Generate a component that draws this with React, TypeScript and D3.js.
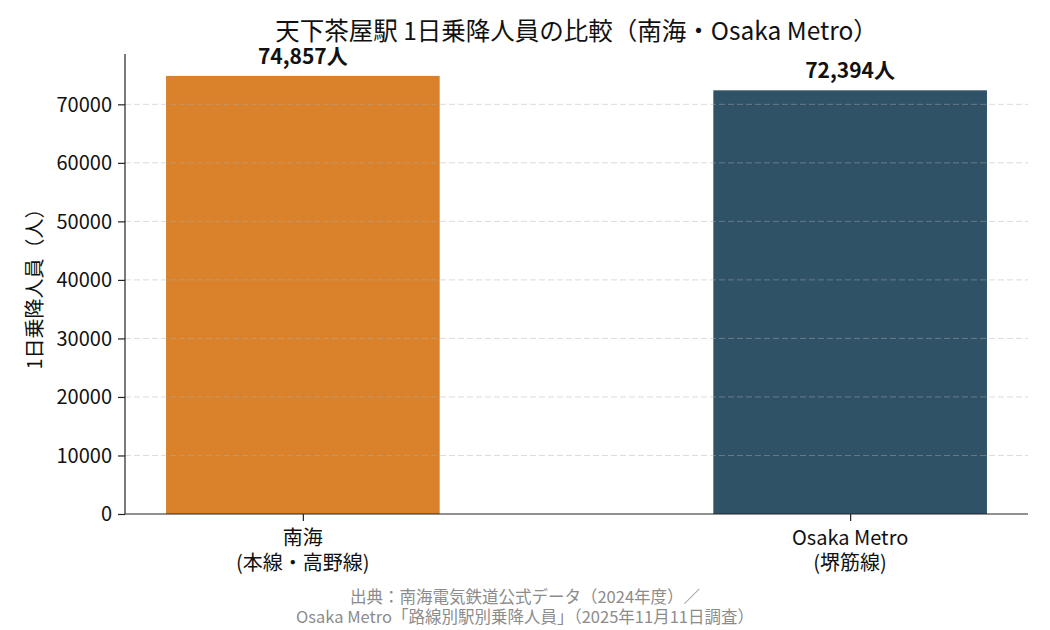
import React, { useEffect, useRef } from 'react'
import * as d3 from 'd3'

const categories = ['南海', 'Osaka Metro']
const subLabels = ['(本線・高野線)', '(堺筋線)']
const riders = [74857, 72394]
const barColors = ['#D9822B', '#2F5266']
const yTicks = [0, 10000, 20000, 30000, 40000, 50000, 60000, 70000]
const titleText = '天下茶屋駅 1日乗降人員の比較（南海・Osaka Metro）'
const yLabel = '1日乗降人員（人）'
const sourceLines = [
  '出典：南海電気鉄道公式データ（2024年度）／',
  'Osaka Metro「路線別駅別乗降人員」（2025年11月11日調査）',
]

const W = 1050
const H = 630
const margin = { left: 125, right: 22, top: 54, bottom: 116 }
const font = '"Noto Sans CJK JP", "Noto Sans", sans-serif'

const App = (): JSX.Element => {
  const ref = useRef<SVGSVGElement>(null)

  useEffect(() => {
    const svg = d3.select(ref.current)
    svg.selectAll('*').remove()
    const innerW = W - margin.left - margin.right
    const innerH = H - margin.top - margin.bottom

    // categorical axis like matplotlib: bars width 0.5, 5% margins
    const x = d3.scaleLinear().domain([-0.325, 1.325]).range([0, innerW])
    const y = d3
      .scaleLinear()
      .domain([0, d3.max(riders)! * 1.05])
      .range([innerH, 0])

    const g = svg
      .append('g')
      .attr('transform', `translate(${margin.left},${margin.top})`)

    g.selectAll('rect.bar')
      .data(riders)
      .join('rect')
      .attr('class', 'bar')
      .attr('x', (_, i) => x(i - 0.25))
      .attr('width', x(0.5) - x(0))
      .attr('y', d => y(d))
      .attr('height', d => innerH - y(d))
      .attr('fill', (_, i) => barColors[i])

    // grid on top, as in the reference
    g.append('g')
      .selectAll('line')
      .data(yTicks.slice(1))
      .join('line')
      .attr('x1', 0)
      .attr('x2', innerW)
      .attr('y1', d => y(d))
      .attr('y2', d => y(d))
      .attr('stroke', '#b0b0b0')
      .attr('stroke-opacity', 0.45)
      .attr('stroke-dasharray', '6,3')

    const yAxis = d3
      .axisLeft(y)
      .tickValues(yTicks)
      .tickSize(7)
      .tickPadding(6)
      .tickFormat(d => String(d))
    g.append('g').call(ax => {
      ax.call(yAxis)
      ax.select('.domain')
        .attr('d', `M0,${innerH}V0`)
        .attr('stroke', '#222')
        .attr('stroke-width', 1.2)
      ax.selectAll('.tick line').attr('stroke', '#222').attr('stroke-width', 1.2)
      ax.selectAll('.tick text')
        .attr('font-family', font)
        .attr('font-size', 20)
        .attr('dy', '0.34em')
        .attr('fill', '#111')
    })

    const xAxis = d3
      .axisBottom(x)
      .tickValues([0, 1])
      .tickSize(7)
      .tickFormat(() => '')
    g.append('g')
      .attr('transform', `translate(0,${innerH})`)
      .call(ax => {
        ax.call(xAxis)
        ax.select('.domain')
          .attr('d', `M0,0H${innerW}`)
          .attr('stroke', '#222')
          .attr('stroke-width', 1.2)
        ax.selectAll('.tick line').attr('stroke', '#222').attr('stroke-width', 1.2)
      })

    categories.forEach((c, i) => {
      const t = g
        .append('text')
        .attr('x', x(i))
        .attr('y', innerH + 31)
        .attr('text-anchor', 'middle')
        .attr('font-family', font)
        .attr('font-size', 20)
        .attr('fill', '#111')
      t.append('tspan').attr('x', x(i)).text(c)
      t.append('tspan').attr('x', x(i)).attr('dy', 25).text(subLabels[i])
    })

    g.selectAll('text.val')
      .data(riders)
      .join('text')
      .attr('class', 'val')
      .attr('x', (_, i) => x(i))
      .attr('y', d => y(d) - 12)
      .attr('text-anchor', 'middle')
      .attr('font-family', font)
      .attr('font-weight', 'bold')
      .attr('font-size', 21)
      .attr('fill', '#111')
      .text(d => d3.format(',')(d) + '人')

    svg
      .append('text')
      .attr('x', margin.left + innerW / 2)
      .attr('y', 40)
      .attr('text-anchor', 'middle')
      .attr('font-family', font)
      .attr('font-size', 24.5)
      .attr('fill', '#111')
      .text(titleText)

    svg
      .append('text')
      .attr('transform', `translate(42,${margin.top + innerH / 2}) rotate(-90)`)
      .attr('text-anchor', 'middle')
      .attr('font-family', font)
      .attr('font-size', 20)
      .attr('fill', '#111')
      .text(yLabel)

    svg
      .append('g')
      .selectAll('text')
      .data(sourceLines)
      .join('text')
      .attr('x', W / 2)
      .attr('y', (_, i) => 603 + i * 20)
      .attr('text-anchor', 'middle')
      .attr('font-family', font)
      .attr('font-size', 16.5)
      .attr('fill', '#8c8c8c')
      .text(d => d)
  }, [])

  return (
    <div style={{ position: 'fixed', left: 0, top: 0 }}>
      <svg ref={ref} width={W} height={H} style={{ display: 'block', background: '#fff' }} />
    </div>
  )
}

export default App
